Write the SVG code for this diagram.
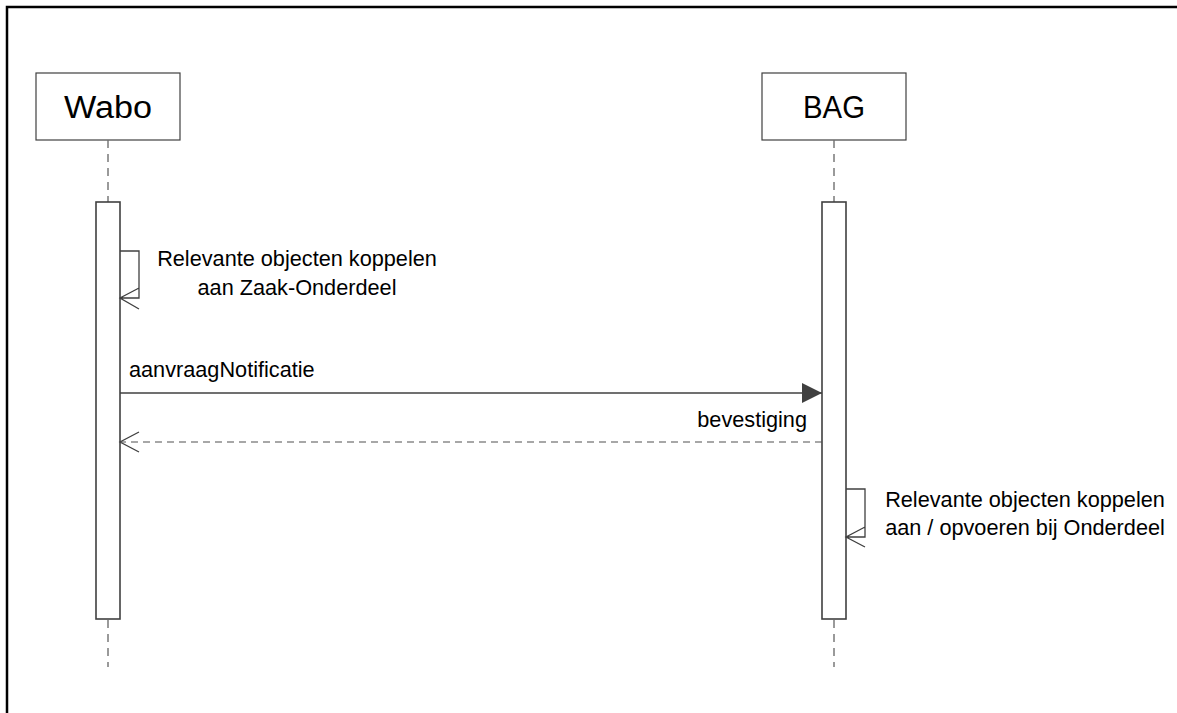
<svg xmlns="http://www.w3.org/2000/svg" width="1177" height="713" viewBox="0 0 1177 713">
<defs>
<style>
text{font-family:"Liberation Sans",Arial,sans-serif;fill:#000}
.head{font-size:31px}
.lbl{font-size:21.7px}
.box{fill:#fff;stroke:#404040;stroke-width:1.2}
.act{fill:#fff;stroke:#404040;stroke-width:1.6}
.life{stroke:#707070;stroke-width:1.4;stroke-dasharray:8,6;fill:none}
.msg{stroke:#404040;stroke-width:1.3;fill:none}
.ret{stroke:#505050;stroke-width:1.2;stroke-dasharray:7,5;fill:none}
</style>
<marker id="filled" markerWidth="22" markerHeight="22" refX="20" refY="10" orient="auto" markerUnits="userSpaceOnUse">
<path d="M0,0 L20,10 L0,20 Z" fill="#404040"/>
</marker>
</defs>
<rect width="1177" height="713" fill="#fff"/>
<path d="M7,713 L7,7 L1177,7" fill="none" stroke="#000" stroke-width="2.5"/>
<g id="wabo">
<rect class="box" x="36" y="73" width="144" height="67"/>
<text class="head" x="64" y="118" textLength="88" lengthAdjust="spacingAndGlyphs">Wabo</text>
<line class="life" x1="108" y1="140" x2="108" y2="202"/>
<rect class="act" x="96" y="202" width="24" height="417"/>
<line class="life" x1="108" y1="620" x2="108" y2="667"/>
</g>
<g id="bag">
<rect class="box" x="762" y="73" width="144" height="67"/>
<text class="head" x="803" y="118" textLength="62" lengthAdjust="spacingAndGlyphs">BAG</text>
<line class="life" x1="834" y1="140" x2="834" y2="202"/>
<rect class="act" x="822" y="202" width="24" height="417"/>
<line class="life" x1="834" y1="620" x2="834" y2="667"/>
</g>
<g id="connectors">
<path class="msg" d="M120,251 H139 V298 H120 M139,288 L120,298 L139,309"/>
<text class="lbl" x="297" y="266" text-anchor="middle">Relevante objecten koppelen</text>
<text class="lbl" x="297" y="295" text-anchor="middle">aan Zaak-Onderdeel</text>
<line class="msg" x1="120" y1="393" x2="822" y2="393" marker-end="url(#filled)"/>
<text class="lbl" x="129" y="377">aanvraagNotificatie</text>
<line class="ret" x1="822" y1="442" x2="121" y2="442"/>
<path class="msg" d="M139,432 L120,442 L139,452"/>
<text class="lbl" x="807" y="427" text-anchor="end">bevestiging</text>
<path class="msg" d="M846,489 H865 V537 H846 M865,527 L846,537 L865,547"/>
<text class="lbl" x="1025" y="507" text-anchor="middle">Relevante objecten koppelen</text>
<text class="lbl" x="1025" y="535" text-anchor="middle">aan / opvoeren bij Onderdeel</text>
</g>
</svg>
